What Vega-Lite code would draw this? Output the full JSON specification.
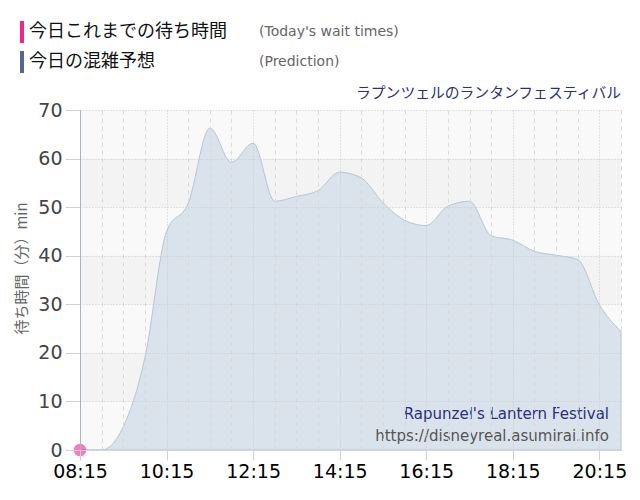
{
  "$schema": "https://vega.github.io/schema/vega-lite/v6.json",
  "width": 541,
  "height": 340,
  "autosize": {"type": "none"},
  "padding": {"left": 80, "top": 110, "right": 19, "bottom": 50},
  "background": "#ffffff",
  "view": {"fill": "#f3f3f3", "stroke": null},
  "title": {
    "text": "ラプンツェルのランタンフェスティバル",
    "anchor": "end",
    "frame": "group",
    "font": "Noto Sans CJK JP",
    "fontSize": 14.8,
    "fontWeight": "normal",
    "color": "#2c2f7c",
    "offset": 5,
    "dy": 85
  },
  "layer": [
    {
      "data": {"values": [
        {"lo": 0, "hi": 10},
        {"lo": 20, "hi": 30},
        {"lo": 40, "hi": 50},
        {"lo": 60, "hi": 70}
      ]},
      "mark": {"type": "rect", "color": "#f9f9f9"},
      "encoding": {
        "y": {"field": "lo", "type": "quantitative"},
        "y2": {"field": "hi"}
      }
    },
    {
      "data": {
        "values": [
          {"time": "08:15", "wait": 0},
          {"time": "08:45", "wait": 0},
          {"time": "09:15", "wait": 4.8},
          {"time": "09:45", "wait": 19},
          {"time": "10:15", "wait": 45},
          {"time": "10:45", "wait": 50.8},
          {"time": "11:15", "wait": 66.3},
          {"time": "11:45", "wait": 59.2},
          {"time": "12:15", "wait": 63.2},
          {"time": "12:45", "wait": 51.2},
          {"time": "13:15", "wait": 52.2},
          {"time": "13:45", "wait": 53.4},
          {"time": "14:15", "wait": 57.2},
          {"time": "14:45", "wait": 56},
          {"time": "15:15", "wait": 50.9},
          {"time": "15:45", "wait": 47.3},
          {"time": "16:15", "wait": 46.2},
          {"time": "16:45", "wait": 50.2},
          {"time": "17:15", "wait": 51.2},
          {"time": "17:45", "wait": 44.1},
          {"time": "18:15", "wait": 43.2},
          {"time": "18:45", "wait": 40.9},
          {"time": "19:15", "wait": 40.1},
          {"time": "19:45", "wait": 39.2},
          {"time": "20:15", "wait": 29.9},
          {"time": "20:45", "wait": 24.4}
        ],
        "format": {"parse": {"time": "date:'%H:%M'"}}
      },
      "mark": {"type": "area", "interpolate": "monotone", "fill": "#dae3eb", "stroke": "#b6c5d4", "strokeWidth": 1},
      "encoding": {
        "x": {
          "field": "time",
          "type": "temporal",
          "scale": {"domain": [
            {"year": 1900, "month": 1, "date": 1, "hours": 8, "minutes": 15},
            {"year": 1900, "month": 1, "date": 1, "hours": 20, "minutes": 45}
          ]},
          "axis": {
            "title": null,
            "zindex": 1,
            "tickCount": 40,
            "values": [
              {"year": 1900, "month": 1, "date": 1, "hours": 8, "minutes": 15},
              {"year": 1900, "month": 1, "date": 1, "hours": 8, "minutes": 45},
              {"year": 1900, "month": 1, "date": 1, "hours": 9, "minutes": 15},
              {"year": 1900, "month": 1, "date": 1, "hours": 9, "minutes": 45},
              {"year": 1900, "month": 1, "date": 1, "hours": 10, "minutes": 15},
              {"year": 1900, "month": 1, "date": 1, "hours": 10, "minutes": 45},
              {"year": 1900, "month": 1, "date": 1, "hours": 11, "minutes": 15},
              {"year": 1900, "month": 1, "date": 1, "hours": 11, "minutes": 45},
              {"year": 1900, "month": 1, "date": 1, "hours": 12, "minutes": 15},
              {"year": 1900, "month": 1, "date": 1, "hours": 12, "minutes": 45},
              {"year": 1900, "month": 1, "date": 1, "hours": 13, "minutes": 15},
              {"year": 1900, "month": 1, "date": 1, "hours": 13, "minutes": 45},
              {"year": 1900, "month": 1, "date": 1, "hours": 14, "minutes": 15},
              {"year": 1900, "month": 1, "date": 1, "hours": 14, "minutes": 45},
              {"year": 1900, "month": 1, "date": 1, "hours": 15, "minutes": 15},
              {"year": 1900, "month": 1, "date": 1, "hours": 15, "minutes": 45},
              {"year": 1900, "month": 1, "date": 1, "hours": 16, "minutes": 15},
              {"year": 1900, "month": 1, "date": 1, "hours": 16, "minutes": 45},
              {"year": 1900, "month": 1, "date": 1, "hours": 17, "minutes": 15},
              {"year": 1900, "month": 1, "date": 1, "hours": 17, "minutes": 45},
              {"year": 1900, "month": 1, "date": 1, "hours": 18, "minutes": 15},
              {"year": 1900, "month": 1, "date": 1, "hours": 18, "minutes": 45},
              {"year": 1900, "month": 1, "date": 1, "hours": 19, "minutes": 15},
              {"year": 1900, "month": 1, "date": 1, "hours": 19, "minutes": 45},
              {"year": 1900, "month": 1, "date": 1, "hours": 20, "minutes": 15},
              {"year": 1900, "month": 1, "date": 1, "hours": 20, "minutes": 45}
            ],
            "labelExpr": "minutes(datum.value) == 15 && hours(datum.value) % 2 == 0 ? timeFormat(datum.value, '%H:%M') : ''",
            "labelFont": "DejaVu Sans",
            "labelFontSize": 19,
            "labelColor": "#000000",
            "labelFlush": false,
            "labelOverlap": false,
            "labelPadding": 2,
            "domainColor": "#cfd6de",
            "tickColor": "#d0d0d0",
            "tickSize": 10,
            "tickOpacity": {"condition": {"test": "minutes(datum.value) == 15 && hours(datum.value) % 2 == 0", "value": 1}, "value": 0},
            "gridColor": {"condition": {"test": "minutes(datum.value) == 15 && hours(datum.value) % 2 == 0", "value": "#c8c8c8"}, "value": "#d8d8d8"},
            "gridDash": {"condition": {"test": "minutes(datum.value) == 15 && hours(datum.value) % 2 == 0", "value": [1, 2]}, "value": [4, 4]}
          }
        },
        "y": {
          "field": "wait",
          "type": "quantitative",
          "scale": {"domain": [0, 70]},
          "axis": {
            "title": "待ち時間（分）min",
            "titleFont": "Noto Sans CJK JP",
            "titleFontSize": 15,
            "titleFontWeight": "normal",
            "titleColor": "#666666",
            "titlePadding": 8,
            "titleY": 158,
            "zindex": 1,
            "values": [0, 10, 20, 30, 40, 50, 60, 70],
            "labelFont": "DejaVu Sans",
            "labelFontSize": 19,
            "labelColor": "#444444",
            "labelPadding": 3,
            "tickSize": 15,
            "tickColor": "#d0d0d0",
            "domainColor": "#aab4c0",
            "gridColor": "#c8c8c8",
            "gridDash": [1, 2]
          }
        }
      }
    },
    {
      "data": {
        "values": [
          {"time": "08:15", "wait": 0, "series": "今日これまでの待ち時間", "en": "(Today's wait times)"}
        ],
        "format": {"parse": {"time": "date:'%H:%M'"}}
      },
      "mark": {"type": "point", "filled": true, "opacity": 0.6, "size": 160, "clip": false},
      "encoding": {
        "x": {"field": "time", "type": "temporal"},
        "y": {"field": "wait", "type": "quantitative"},
        "color": {
          "field": "series",
          "type": "nominal",
          "scale": {"domain": ["今日これまでの待ち時間", "今日の混雑予想"], "range": ["#f0268f", "#5b6496"]},
          "legend": {
            "orient": "none",
            "legendX": -69,
            "legendY": -89,
            "title": null,
            "padding": 0,
            "symbolType": "M-0.18,-1L0.18,-1L0.18,1L-0.18,1Z",
            "symbolSize": 484,
            "symbolOpacity": 1,
            "symbolStrokeWidth": 0,
            "labelFont": "Noto Sans CJK JP",
            "labelFontSize": 18,
            "labelColor": "#111111",
            "labelOffset": -4,
            "labelLimit": 400,
            "rowPadding": 8
          }
        },
        "shape": {
          "field": "en",
          "type": "nominal",
          "scale": {"domain": ["(Today's wait times)", "(Prediction)"], "range": ["circle", "circle"]},
          "legend": {
            "orient": "none",
            "legendX": 157,
            "legendY": -89,
            "title": null,
            "padding": 0,
            "symbolSize": 484,
            "symbolOpacity": 0,
            "symbolStrokeWidth": 0,
            "labelFont": "DejaVu Sans",
            "labelFontSize": 14,
            "labelColor": "#666666",
            "labelOffset": 0,
            "labelLimit": 400,
            "rowPadding": 8
          }
        }
      }
    },
    {
      "data": {"values": [
        {"label": "Rapunzel's Lantern Festival", "level": 7.4, "kind": "name"},
        {"label": "https://disneyreal.asumirai.info", "level": 2.9, "kind": "url"}
      ]},
      "mark": {"type": "text", "align": "right", "baseline": "middle", "font": "DejaVu Sans", "fontSize": 15, "dx": -12},
      "encoding": {
        "x": {"datum": {"year": 1900, "month": 1, "date": 1, "hours": 20, "minutes": 45}, "type": "temporal"},
        "y": {"field": "level", "type": "quantitative"},
        "text": {"field": "label"},
        "color": {"condition": {"test": "datum.kind == 'name'", "value": "#2c2f7c"}, "value": "#555555"}
      }
    }
  ]
}
